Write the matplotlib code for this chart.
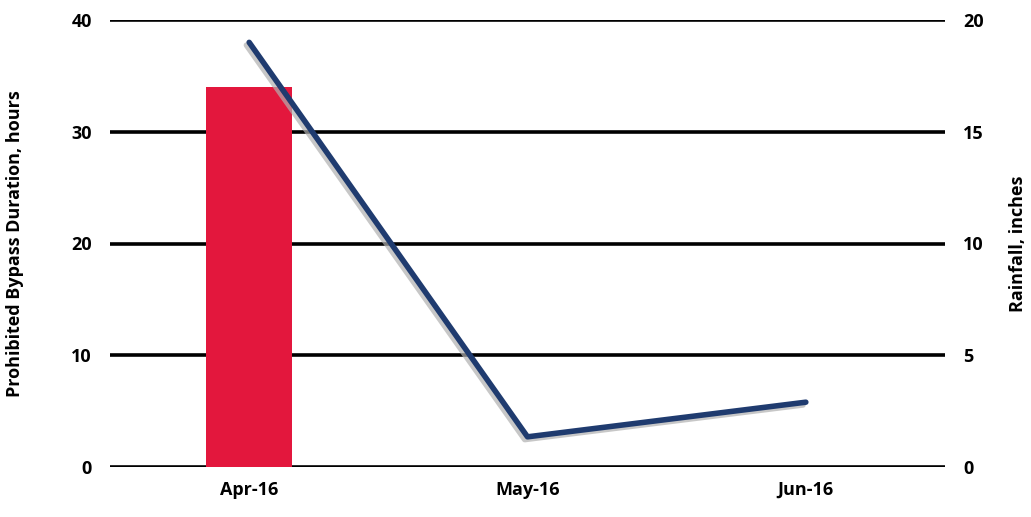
import numpy as np
import matplotlib
matplotlib.use("Agg")
import matplotlib.pyplot as plt
import matplotlib.patheffects as pe

months = ["Apr-16", "May-16", "Jun-16"]
bypass_hours = [34, 0, 0]
rainfall_in = [19.0, 1.35, 2.9]

plt.rcParams['font.family'] = ['Open Sans', 'DejaVu Sans']
plt.rcParams['font.weight'] = 'bold'

fig = plt.figure(figsize=(10.31, 5.17), dpi=100)
ax = fig.add_axes([110 / 1031, 50 / 517, 835 / 1031, 447 / 517])
ax2 = ax.twinx()

x = np.arange(len(months))
ax.bar(x, bypass_hours, width=0.31, color="#E3173D", zorder=3)

ax.set_xlim(-0.5, 2.5)
ax.set_ylim(0, 40)
ax.set_yticks([0, 10, 20, 30, 40])
ax.yaxis.grid(True, color="black", linewidth=2.6, zorder=0)
ax.set_axisbelow(True)
ax.set_xticks(x)
ax.set_xticklabels(months)
ax.set_ylabel("Prohibited Bypass Duration, hours", fontsize=13, fontweight='bold', labelpad=34)

ax2.plot(x, rainfall_in, color="#1F3B6F", linewidth=4, solid_capstyle='round', zorder=4,
         path_effects=[pe.SimpleLineShadow(offset=(-2, -2), shadow_color="#B0B0B0", alpha=0.7),
                       pe.Normal()])
ax2.set_ylim(0, 20)
ax2.set_yticks([0, 5, 10, 15, 20])
ax2.set_ylabel("Rainfall, inches", fontsize=13, fontweight='bold', labelpad=18)

for a in (ax, ax2):
    for s in a.spines.values():
        s.set_visible(False)
    a.tick_params(axis='y', length=0, labelsize=13, pad=13)
    a.tick_params(axis='x', length=0, labelsize=13, pad=10)
for lbl in ax.get_xticklabels() + ax.get_yticklabels() + ax2.get_yticklabels():
    lbl.set_fontweight('bold')

fig.savefig("out.png", dpi=100)
